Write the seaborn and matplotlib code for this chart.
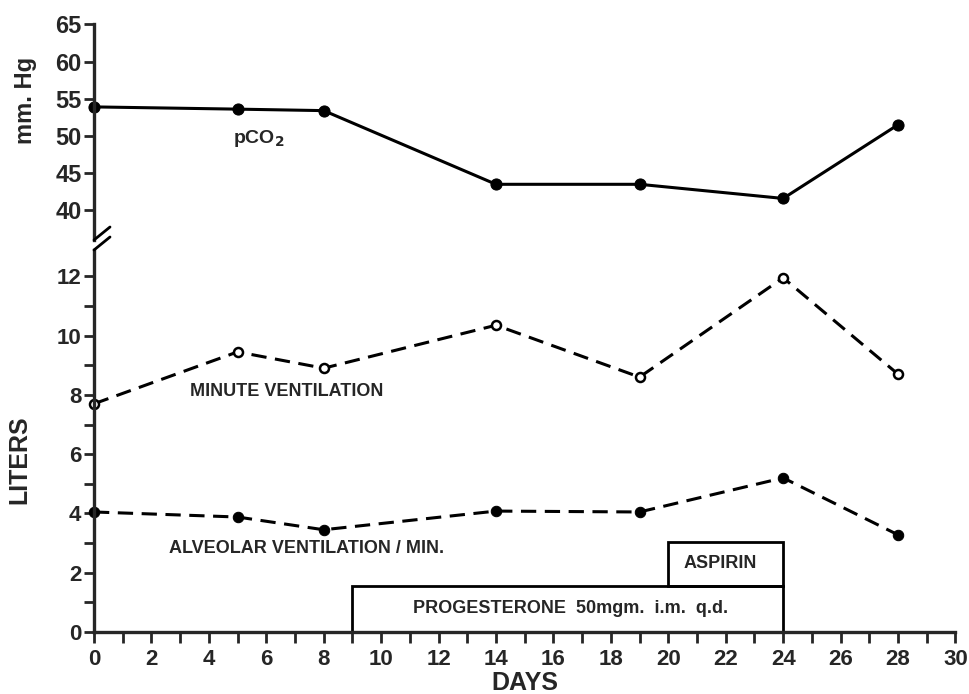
import matplotlib
matplotlib.use("Agg")
import matplotlib.pyplot as plt
import seaborn as sns
import pandas as pd
from matplotlib.patches import Rectangle
from matplotlib.ticker import MultipleLocator

days = [0, 5, 8, 14, 19, 24, 28]
pco2 = [53.9, 53.6, 53.4, 43.5, 43.5, 41.6, 51.5]
minute_vent = [7.7, 9.45, 8.9, 10.35, 8.6, 11.95, 8.7]
alveolar_vent = [4.05, 3.88, 3.45, 4.08, 4.05, 5.2, 3.28]

progesterone_span = (9, 24, 1.55)   # start day, end day, height
aspirin_span = (20, 24, 1.55, 3.05)  # start day, end day, bottom, top

sns.set_style("ticks")
plt.rcParams['font.family'] = ['Liberation Sans', 'DejaVu Sans']

fig = plt.figure(figsize=(9.69, 6.94), dpi=100)
ax_top = fig.add_axes([0.097, 0.654, 0.889, 0.311])
ax_bot = fig.add_axes([0.097, 0.0893, 0.889, 0.551])

df_p = pd.DataFrame({"day": days, "val": pco2})
df_m = pd.DataFrame({"day": days, "val": minute_vent})
df_a = pd.DataFrame({"day": days, "val": alveolar_vent})

sns.lineplot(data=df_p, x="day", y="val", ax=ax_top, color="black", lw=2.2,
             marker="o", markersize=8, markerfacecolor="black",
             markeredgecolor="black", clip_on=False)
sns.lineplot(data=df_m, x="day", y="val", ax=ax_bot, color="black", lw=2.2,
             linestyle=(0, (5, 2.8)), marker="o", markersize=6.5,
             markerfacecolor="white", markeredgecolor="black",
             markeredgewidth=1.8, clip_on=False)
sns.lineplot(data=df_a, x="day", y="val", ax=ax_bot, color="black", lw=2.2,
             linestyle=(0, (5, 2.8)), marker="o", markersize=7.5,
             markerfacecolor="black", markeredgecolor="black", clip_on=False)

for ax in (ax_top, ax_bot):
    ax.set_xlim(0, 30)
    for s in ("top", "right"):
        ax.spines[s].set_visible(False)
    ax.spines["left"].set_linewidth(2.4)
    ax.tick_params(axis="y", which="major", length=7, width=2, pad=2)
    ax.tick_params(axis="y", which="minor", length=7, width=2)
    ax.set_xlabel("")
    ax.set_ylabel("")

ax_top.set_ylim(36, 65)
ax_top.set_yticks([40, 45, 50, 55, 60, 65])
ax_top.set_yticklabels(["40", "45", "50", "55", "60", "65"], fontweight="bold", fontsize=17)
ax_top.spines["bottom"].set_visible(False)
ax_top.tick_params(axis="x", which="both", bottom=False, labelbottom=False)

ax_bot.set_ylim(0, 12.9)
ax_bot.set_yticks([0, 2, 4, 6, 8, 10, 12])
ax_bot.set_yticklabels(["0", "2", "4", "6", "8", "10", "12"], fontweight="bold", fontsize=16)
ax_bot.yaxis.set_minor_locator(MultipleLocator(1))
ax_bot.spines["bottom"].set_linewidth(2.4)
ax_bot.set_xticks(range(0, 31, 2))
ax_bot.set_xticklabels([str(v) for v in range(0, 31, 2)], fontweight="bold", fontsize=16)
ax_bot.xaxis.set_minor_locator(MultipleLocator(1))
ax_bot.tick_params(axis="x", which="both", length=8, width=2, pad=4)

# treatment boxes
ax_bot.add_patch(Rectangle((progesterone_span[0], 0),
                           progesterone_span[1] - progesterone_span[0],
                           progesterone_span[2], fill=False, ec="black", lw=2))
ax_bot.add_patch(Rectangle((aspirin_span[0], aspirin_span[2]),
                           aspirin_span[1] - aspirin_span[0],
                           aspirin_span[3] - aspirin_span[2],
                           fill=False, ec="black", lw=2))
ax_bot.text(16.6, 0.8, "PROGESTERONE  50mgm.  i.m.  q.d.", ha="center", va="center",
            fontsize=13, fontweight="bold")
ax_bot.text(21.8, 2.3, "ASPIRIN", ha="center", va="center", fontsize=13, fontweight="bold")

ax_top.text(5.75, 49.6, r"pCO$_\mathbf{2}$", ha="center", va="center",
            fontsize=14, fontweight="bold")
ax_bot.text(6.7, 8.1, "MINUTE VENTILATION", ha="center", va="center", fontsize=13,
            fontweight="bold")
ax_bot.text(7.4, 2.83, "ALVEOLAR VENTILATION / MIN.", ha="center", va="center",
            fontsize=13, fontweight="bold")

fig.text(0.026, 0.855, "mm. Hg", rotation=90, ha="center", va="center",
         fontsize=17, fontweight="bold")
fig.text(0.02, 0.337, "LITERS", rotation=90, ha="center", va="center",
         fontsize=18, fontweight="bold")
fig.text(0.542, 0.016, "DAYS", ha="center", va="center", fontsize=18, fontweight="bold")

# axis break marks
for yb in (240, 250):
    y0 = 1 - yb / 694
    fig.add_artist(plt.Line2D([94 / 969, 110 / 969], [y0, y0 + 13 / 694],
                              color="black", lw=2))

fig.savefig("out.png", dpi=100)
